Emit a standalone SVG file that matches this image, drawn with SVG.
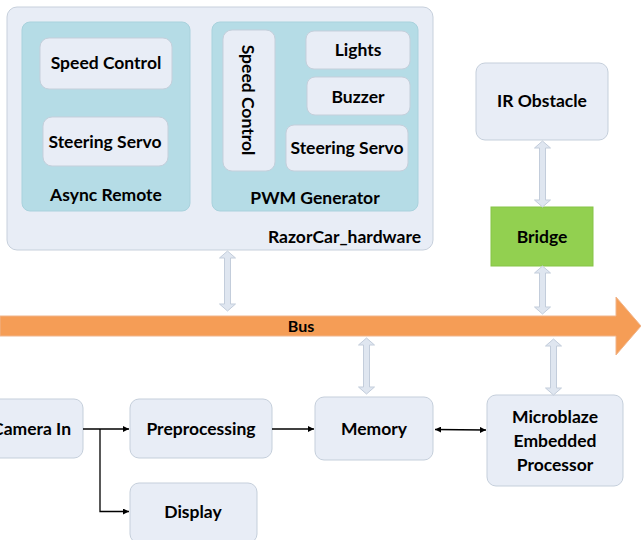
<svg xmlns="http://www.w3.org/2000/svg" width="641" height="540" viewBox="0 0 641 540">
  <defs>
    <style>
      .lbl { font-family: Lato, "Open Sans", "Liberation Sans", sans-serif; font-weight: bold; font-size: 17.5px; fill: #000; text-anchor: middle; }
      .frame { fill: #e8edf6; stroke: #c7d0dc; stroke-width: 1; }
      .group { fill: #b5dce6; stroke: #a9d2dd; stroke-width: 1; }
      .box { fill: #e8edf6; stroke: #c5cfdb; stroke-width: 1; }
      .blk { fill: #dfe6f0; stroke: #c3cddb; stroke-width: 1; }
      .wire { fill: none; stroke: #000; stroke-width: 1.3; }
    </style>
    <marker id="head" viewBox="0 0 10 10" refX="10" refY="5" markerWidth="6" markerHeight="6" markerUnits="userSpaceOnUse" orient="auto-start-reverse">
      <path d="M0,0 L10,5 L0,10 Z" fill="#000"/>
    </marker>
  </defs>

  <!-- RazorCar_hardware container -->
  <g id="razorcar">
    <rect class="frame" x="7" y="7" width="426" height="243" rx="10"/>
    <text class="lbl" x="421" y="243" style="text-anchor:end">RazorCar_hardware</text>
  </g>

  <g id="async-remote">
    <rect class="group" x="22" y="22" width="168" height="189" rx="8"/>
    <text class="lbl" x="106" y="201">Async Remote</text>
  </g>
  <g id="async-speed">
    <rect class="box" x="40" y="38" width="132" height="51" rx="9"/>
    <text class="lbl" x="106" y="69">Speed Control</text>
  </g>
  <g id="async-steering">
    <rect class="box" x="43" y="117" width="125" height="49" rx="9"/>
    <text class="lbl" x="105" y="148">Steering Servo</text>
  </g>

  <g id="pwm-generator">
    <rect class="group" x="212" y="22" width="206" height="189" rx="8"/>
    <text class="lbl" x="315" y="204">PWM Generator</text>
  </g>
  <g id="pwm-speed">
    <rect class="box" x="223" y="30" width="52" height="141" rx="9"/>
    <text class="lbl" transform="translate(248,100) rotate(90)" x="0" y="6">Speed Control</text>
  </g>
  <g id="pwm-lights">
    <rect class="box" x="306" y="31" width="104" height="38" rx="8"/>
    <text class="lbl" x="358" y="56">Lights</text>
  </g>
  <g id="pwm-buzzer">
    <rect class="box" x="307" y="77" width="103" height="38" rx="8"/>
    <text class="lbl" x="358" y="103">Buzzer</text>
  </g>
  <g id="pwm-steering">
    <rect class="box" x="286" y="125" width="122" height="46" rx="8"/>
    <text class="lbl" x="347" y="154">Steering Servo</text>
  </g>

  <g id="ir-obstacle">
    <rect class="box" x="476" y="63" width="132" height="77" rx="9"/>
    <text class="lbl" x="542" y="107">IR Obstacle</text>
  </g>

  <g id="bridge">
    <rect x="491" y="207" width="102" height="59" fill="#92d050" stroke="#86c446" stroke-width="1"/>
    <text class="lbl" x="542" y="243">Bridge</text>
  </g>

  <g id="bus">
    <path d="M0,316 L616,316 L616,297 L641,326 L616,355 L616,336 L0,336 Z" fill="#f59d56" stroke="#f0b48a" stroke-width="1"/>
    <text class="lbl" x="301" y="332" style="font-size:16px">Bus</text>
  </g>

  <g id="camera-in">
    <rect class="box" x="-30" y="399" width="113" height="59" rx="9"/>
    <text class="lbl" x="71" y="435" style="text-anchor:end">Camera In</text>
  </g>
  <g id="preprocessing">
    <rect class="box" x="130" y="399" width="142" height="59" rx="9"/>
    <text class="lbl" x="201" y="435">Preprocessing</text>
  </g>
  <g id="memory">
    <rect class="box" x="315" y="397" width="118" height="63" rx="9"/>
    <text class="lbl" x="374" y="435">Memory</text>
  </g>
  <g id="microblaze">
    <rect class="box" x="487" y="395" width="136" height="91" rx="9"/>
    <text class="lbl" x="555" y="423">Microblaze</text>
    <text class="lbl" x="555" y="447">Embedded</text>
    <text class="lbl" x="555" y="471">Processor</text>
  </g>
  <g id="display">
    <rect class="box" x="130" y="483" width="127" height="60" rx="9"/>
    <text class="lbl" x="193" y="518">Display</text>
  </g>

  <!-- connectors: hollow bus links and signal wires -->
  <g id="connectors">
    <path class="blk" d="M227.5,251 L235.5,258 L230.5,258 L230.5,304 L235.5,304 L227.5,311 L219.5,304 L224.5,304 L224.5,258 L219.5,258 Z"/>
    <path class="blk" d="M542.5,141 L550.5,148 L545.5,148 L545.5,200 L550.5,200 L542.5,207 L534.5,200 L539.5,200 L539.5,148 L534.5,148 Z"/>
    <path class="blk" d="M542.5,266 L550.5,273 L545.5,273 L545.5,307 L550.5,307 L542.5,314 L534.5,307 L539.5,307 L539.5,273 L534.5,273 Z"/>
    <path class="blk" d="M366.5,338 L374.5,345 L369.5,345 L369.5,387 L374.5,387 L366.5,394 L358.5,387 L363.5,387 L363.5,345 L358.5,345 Z"/>
    <path class="blk" d="M553.5,339 L561.5,346 L556.5,346 L556.5,388 L561.5,388 L553.5,395 L545.5,388 L550.5,388 L550.5,346 L545.5,346 Z"/>

    <path class="wire" d="M83,429 L129,429" marker-end="url(#head)"/>
    <path class="wire" d="M100,429 L100,511.5 L129,511.5" marker-end="url(#head)"/>
    <path class="wire" d="M272,429 L314,429" marker-end="url(#head)"/>
    <path class="wire" d="M435,429.5 L486,430" marker-start="url(#head)" marker-end="url(#head)"/>
  </g>
</svg>
